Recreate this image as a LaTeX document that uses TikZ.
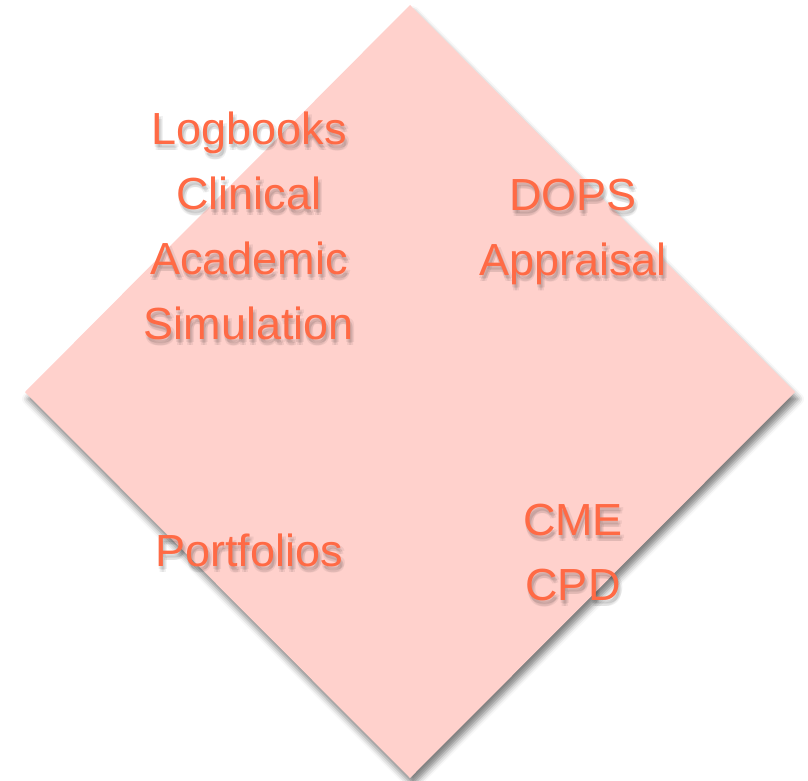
\documentclass[tikz,border=0pt]{standalone}
\usepackage{fontspec}
\setmainfont{Liberation Sans}
\usetikzlibrary{positioning,calc,shadows.blur}

\definecolor{rhombfill}{HTML}{FFD1CC}
\definecolor{labelorange}{HTML}{FF6A45}

% one block of text with a soft grey shadow behind it
\newcommand{\shadedlabel}[3]{%
    \foreach \dx/\dy in {0/3,4/3,2/4,1/6,3/6}
        \node[labelshadow] at ($(#2)+(\dx,\dy)$) {#3};
    \node[labeltext] (#1) at (#2) {#3};
}

\begin{document}
\begin{tikzpicture}[
    x=1pt, y=-1pt,
    labeltext/.style={text=labelorange, align=center, inner sep=0pt,
        font=\fontsize{45}{65}\selectfont},
    labelshadow/.style={labeltext, text=black, text opacity=0.06},
    rhomb/.style={fill=rhombfill, draw=none,
        blur shadow={shadow xshift=3pt, shadow yshift=-7pt,
            shadow blur radius=6pt, shadow opacity=50}}
]
    \useasboundingbox (0,0) rectangle (808,781);

    % corners of the diamond
    \coordinate (top) at (410,5);
    \coordinate (right) at (795,392);
    \coordinate (bottom) at (410,778);
    \coordinate (left) at (25,392);
    \fill[rhomb] (top) -- (right) -- (bottom) -- (left) -- cycle;

    % centres of the four quadrants
    \coordinate (nw) at (249,226);
    \coordinate (ne) at (573,231.5);
    \coordinate (sw) at (249,550);
    \coordinate (se) at (573,553);

    \shadedlabel{logbooks}{nw}{Logbooks\\Clinical\\Academic\\Simulation}
    \shadedlabel{dops}{ne}{DOPS\\Appraisal}
    \shadedlabel{portfolios}{sw}{Portfolios}
    \shadedlabel{cme}{se}{CME\\CPD}
\end{tikzpicture}
\end{document}
